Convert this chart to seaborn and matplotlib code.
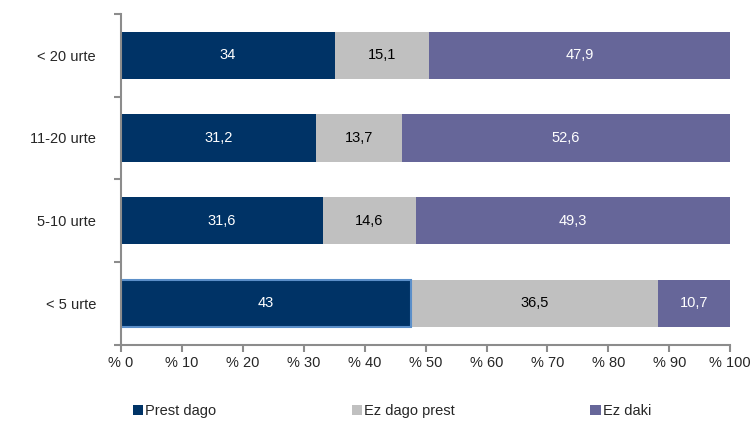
import matplotlib
matplotlib.use("Agg")
import matplotlib.pyplot as plt
from matplotlib.patches import Patch
from matplotlib.ticker import FixedLocator
import seaborn as sns
import numpy as np
import pandas as pd

categories = ["< 20 urte", "11-20 urte", "5-10 urte", "< 5 urte"]
series = ["Prest dago", "Ez dago prest", "Ez daki"]
prest_dago = [34, 31.2, 31.6, 43]
ez_dago_prest = [15.1, 13.7, 14.6, 36.5]
ez_daki = [47.9, 52.6, 49.3, 10.7]
xticks = [0, 10, 20, 30, 40, 50, 60, 70, 80, 90, 100]

colors = ["#003366", "#C0C0C0", "#666699"]
text_colors = ["white", "black", "white"]

sns.set_style("white")
plt.rcParams['font.family'] = ['Liberation Sans', 'DejaVu Sans']

vals = np.array([prest_dago, ez_dago_prest, ez_daki], dtype=float)
shares = vals / vals.sum(axis=0) * 100  # 100% stacked
cum = np.cumsum(shares, axis=0)

fig = plt.figure(figsize=(7.56, 4.21), dpi=100)
ax = fig.add_axes([0.160, 0.181, 0.806, 0.786])

# draw from the outermost stack inwards
for i in [2, 1, 0]:
    df = pd.DataFrame({"cat": categories, "val": cum[i]})
    sns.barplot(data=df, x="val", y="cat", orient="h", color=colors[i],
                saturation=1, width=0.57, ax=ax, linewidth=0)

# the selected segment in the original has a light blue outline
sel = ax.containers[-1].patches[3]
sel.set_edgecolor("#5B8FC9")
sel.set_linewidth(1.5)

# value labels
for i in range(3):
    for j, cat in enumerate(categories):
        center = cum[i][j] - shares[i][j] / 2
        label = ("%g" % vals[i][j]).replace(".", ",")
        ax.text(center, j, label, ha="center", va="center",
                color=text_colors[i], fontsize=10.5)

ax.set_xlim(0, 100)
ax.set_ylim(3.5, -0.5)
ax.set_xticks(xticks)
ax.set_xticklabels(["%% %d" % t for t in xticks], fontsize=10.5)
ax.set_xlabel("")
ax.set_ylabel("")
ax.tick_params(axis="y", which="major", left=False, length=0, labelsize=10.5, pad=18)
ax.yaxis.set_minor_locator(FixedLocator([-0.5, 0.5, 1.5, 2.5, 3.5]))
ax.tick_params(axis="y", which="minor", left=True, length=5, width=1.5,
               color="#8C8C8C", direction="out")
ax.tick_params(axis="x", which="major", bottom=True, length=5, width=1.5,
               color="#8C8C8C", direction="out", pad=3)

for s in ["top", "right"]:
    ax.spines[s].set_visible(False)
for s in ["left", "bottom"]:
    ax.spines[s].set_color("#8C8C8C")
    ax.spines[s].set_linewidth(1.5)

handles = [Patch(facecolor=c, edgecolor="none") for c in colors]
fig.legend(handles, series, loc="lower left", bbox_to_anchor=(0.158, -0.025),
           ncol=3, frameon=False, fontsize=10.5, handlelength=0.7,
           handleheight=0.7, handletextpad=0.15, columnspacing=9.3)

plt.savefig("out.png", dpi=100)
